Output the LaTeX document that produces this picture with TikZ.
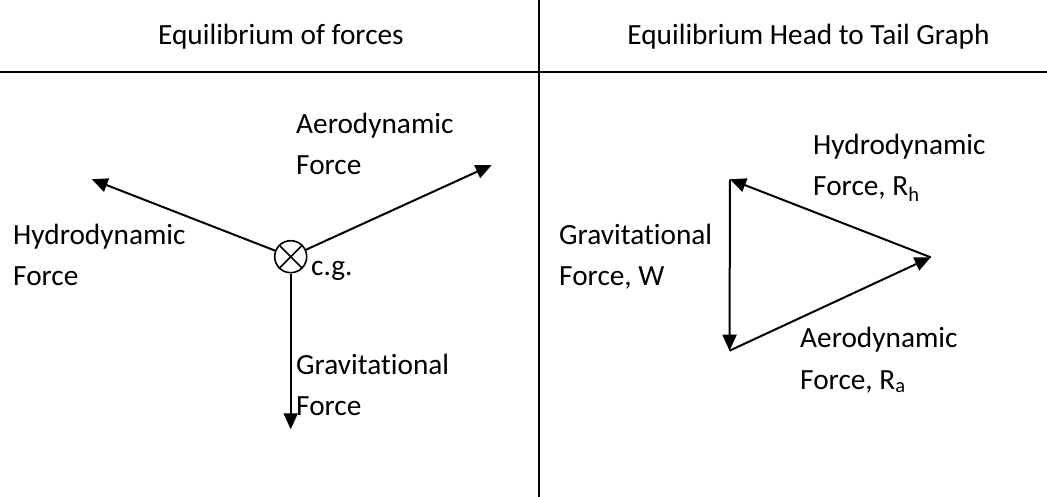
\documentclass[tikz,border=0pt]{standalone}
\usepackage{fontspec}
\setmainfont[Ligatures=NoCommon]{Carlito}
\usetikzlibrary{arrows.meta}
\begin{document}
\begin{tikzpicture}[x=1pt,y=-1pt,
  lbl/.style={anchor=base west,inner sep=0pt,align=left,font=\fontsize{29.3}{41.5}\selectfont},
  ttl/.style={anchor=base,inner sep=0pt,font=\fontsize{29.3}{41.5}\selectfont},
  rule/.style={line width=2pt},
  force/.style={line width=2pt,-{Triangle[length=16pt,width=14pt]}}]
\useasboundingbox (0,0) rectangle (1047,497);
% frame lines
\coordinate (vtop) at (538.7,0);
\coordinate (vbot) at (538.7,497);
\coordinate (hl) at (0,72.5);
\coordinate (hr) at (1047,72.5);
\draw[rule] (vtop) -- (vbot);
\draw[rule] (hl) -- (hr);
% titles
\node[ttl] (t1) at (281,45) {Equilibrium of forces};
\node[ttl] (t2) at (808.5,45) {Equilibrium Head to Tail Graph};
% left diagram
\node[draw,circle,line width=1.6pt,minimum size=32pt,inner sep=0pt] (cg) at (290.7,256.7) {};
\draw[line width=1.6pt] (cg.45) -- (cg.225);
\draw[line width=1.6pt] (cg.135) -- (cg.315);
\coordinate (htip) at (91.7,179.3);
\coordinate (atip) at (491.7,165);
\coordinate (gtip) at (290.7,429.3);
\draw[force] (cg) -- (htip);
\draw[force] (cg) -- (atip);
\draw[force] (cg.south) -- (gtip);
\node[lbl] (la) at (296,175) {Aerodynamic\\Force};
\node[lbl] (lh) at (13,285.5) {Hydrodynamic\\Force};
\node[lbl] (lcg) at (311,276) {c.g.};
\node[lbl] (lg) at (296,415.5) {Gravitational\\Force};
% right diagram
\coordinate (A) at (730,179.3);
\coordinate (B) at (930.7,257.3);
\coordinate (C) at (729.5,350.7);
\draw[force] (A) -- (C);
\draw[force] (B) -- (A);
\draw[force] (C) -- (B);
\node[lbl] (rh) at (813,196) {Hydrodynamic\\Force, R\textsubscript{h}};
\node[lbl] (rg) at (559,285.5) {Gravitational\\Force, W};
\node[lbl] (ra) at (800,389) {Aerodynamic\\Force, R\textsubscript{a}};
\end{tikzpicture}
\end{document}
